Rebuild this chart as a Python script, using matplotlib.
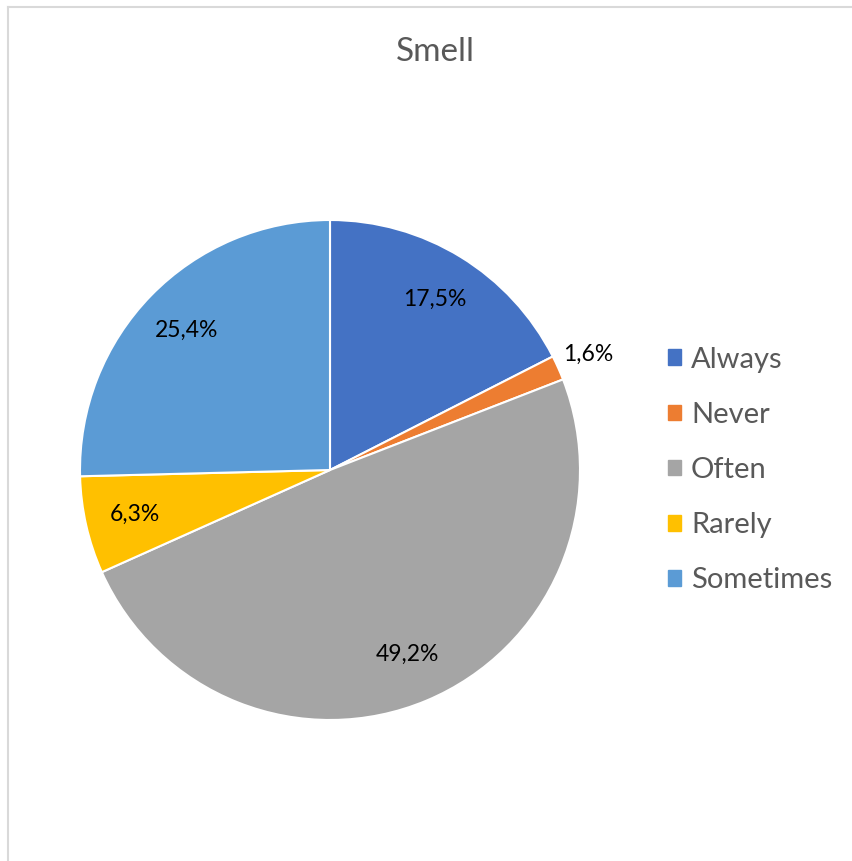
import numpy as np
import matplotlib.pyplot as plt
from matplotlib.lines import Line2D

categories = ["Always", "Never", "Often", "Rarely", "Sometimes"]
values = [17.5, 1.6, 49.2, 6.3, 25.4]
colors = ["#4472C4", "#ED7D31", "#A5A5A5", "#FFC000", "#5B9BD5"]

plt.rcParams['font.family'] = ['Lato', 'DejaVu Sans']

fig = plt.figure(figsize=(8.52, 8.61), dpi=100)

# frame lines like the Excel chart area
fig.add_artist(Line2D([8 / 852, 8 / 852], [0, 1 - 7 / 861], color="#d9d9d9", lw=1.5))
fig.add_artist(Line2D([8 / 852, 1], [1 - 7 / 861, 1 - 7 / 861], color="#d9d9d9", lw=1.5))

cx, cy, r = 330 / 852, 1 - 470 / 861, 250
ax = fig.add_axes([cx - r / 852, cy - r / 861, 2 * r / 852, 2 * r / 861])
wedges, _ = ax.pie(values, colors=colors, startangle=90, counterclock=False,
                   wedgeprops=dict(edgecolor="white", linewidth=1.5))
ax.set_xlim(-1, 1)
ax.set_ylim(-1, 1)
ax.set_aspect('auto')

# data labels
for w, v in zip(wedges, values):
    ang = np.deg2rad((w.theta1 + w.theta2) / 2)
    dist = 1.13 if v < 3 else 0.8
    ax.text(dist * np.cos(ang), dist * np.sin(ang), f"{v:.1f}%".replace(".", ","),
            ha="center", va="center", fontsize=16.5, color="#000000")

fig.text(435 / 852, 1 - 52 / 861, "Smell", ha="center", va="center",
         fontsize=24, color="#595959")

handles = [plt.Rectangle((0, 0), 1, 1, color=c) for c in colors]
leg = fig.legend(handles, categories, loc="center left",
                 bbox_to_anchor=(668 / 852, 1 - 470 / 861), frameon=False,
                 fontsize=21, labelcolor="#595959", handlelength=0.45,
                 handleheight=0.45, handletextpad=0.34, labelspacing=1.0,
                 borderpad=0, borderaxespad=0)

fig.savefig("out.png", dpi=100)
